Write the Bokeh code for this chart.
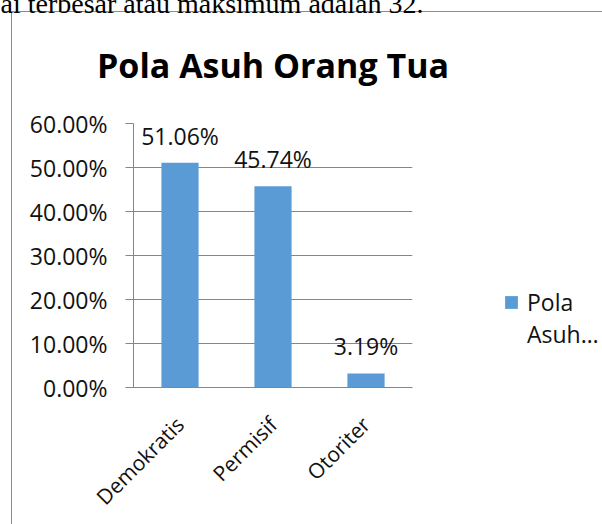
import math
from bokeh.plotting import figure
from bokeh.models import (FactorRange, Range1d, FixedTicker, NumeralTickFormatter, Title,
                          Legend, LegendItem, ColumnDataSource)
from bokeh.core.properties import value
from bokeh.embed import file_html
from bokeh.resources import INLINE

categories = ["Demokratis", "Permisif", "Otoriter"]
percentages = [0.5106, 0.4574, 0.0319]
label_texts = ["51.06%", "45.74%", "3.19%"]
y_ticks = [0.0, 0.1, 0.2, 0.3, 0.4, 0.5, 0.6]
title_text = "Pola Asuh Orang Tua"
series_lines = ["Pola", "Asuh…"]
page_text = "ai terbesar atau maksimum adalah 32."

BAR = "#5B9BD5"
GRID = "#868686"
FONT = "Open Sans"

src = ColumnDataSource(dict(cat=categories, val=percentages, lab=label_texts))

p = figure(x_range=FactorRange(*categories), y_range=Range1d(0, 0.6),
           frame_width=279, frame_height=264,
           min_border_left=133, min_border_right=190, min_border_top=123, min_border_bottom=137,
           output_backend="svg", toolbar_location=None)

p.outline_line_color = None
p.background_fill_color = "white"
p.border_fill_alpha = 0
p.styles = {
    "background": "linear-gradient(#8c8c8c, #8c8c8c) 11px 11px / 1px 100% no-repeat, "
                  "linear-gradient(#8c8c8c, #8c8c8c) 11px 11px / 100% 1px no-repeat, white"
}

r = p.vbar(x="cat", top="val", width=0.4, source=src, fill_color=BAR, line_color=None)

p.text(x="cat", y="val", text="lab", source=src, text_font=value(FONT),
       text_font_size="23px", text_align="center", text_baseline="middle",
       y_offset=-27, text_color="#111111")

# outer title: the cut-off page text; inner title: the chart title
p.title.text = page_text
p.title.align = "left"
p.title.offset = -133
p.title.vertical_align = "bottom"
p.title.text_font = "Liberation Serif"
p.title.text_font_style = "normal"
p.title.text_font_size = "28px"
p.title.text_color = "#000000"
p.title.standoff = -31
p.add_layout(Title(text=title_text, align="center", vertical_align="bottom", standoff=72,
                   text_font=FONT, text_font_style="bold", text_font_size="34px",
                   text_color="#000000"), "above")

# y axis
p.yaxis.ticker = FixedTicker(ticks=y_ticks)
p.yaxis.formatter = NumeralTickFormatter(format="0.00%")
p.yaxis.major_label_text_font = FONT
p.yaxis.major_label_text_font_size = "23px"
p.yaxis.major_label_text_color = "#111111"
p.yaxis.axis_line_color = GRID
p.yaxis.major_tick_line_color = GRID
p.yaxis.major_tick_out = 8
p.yaxis.major_tick_in = 0
p.yaxis.minor_tick_line_color = None
p.yaxis.major_label_standoff = 18

# x axis
p.xaxis.major_label_orientation = math.pi / 4
p.xaxis.major_label_text_font = FONT
p.xaxis.major_label_text_font_size = "21px"
p.xaxis.major_label_text_color = "#111111"
p.xaxis.axis_line_color = GRID
p.xaxis.major_tick_line_color = None
p.xaxis.major_tick_out = 0
p.xaxis.major_tick_in = 0
p.xaxis.major_label_standoff = 33

p.xgrid.grid_line_color = None
p.ygrid.grid_line_color = GRID
p.ygrid.ticker = FixedTicker(ticks=y_ticks)

legend = Legend(items=[LegendItem(label=value(series_lines[0]), renderers=[r]),
                       LegendItem(label=value(series_lines[1]), renderers=[])],
                location=(91, 37), padding=0, margin=0, spacing=0,
                border_line_color=None, background_fill_alpha=0,
                glyph_width=16, glyph_height=16, label_standoff=8,
                label_text_font=FONT, label_text_font_size="23px",
                label_text_color="#111111")
p.add_layout(legend, "right")

open("out.html", "w").write(file_html(p, INLINE))
